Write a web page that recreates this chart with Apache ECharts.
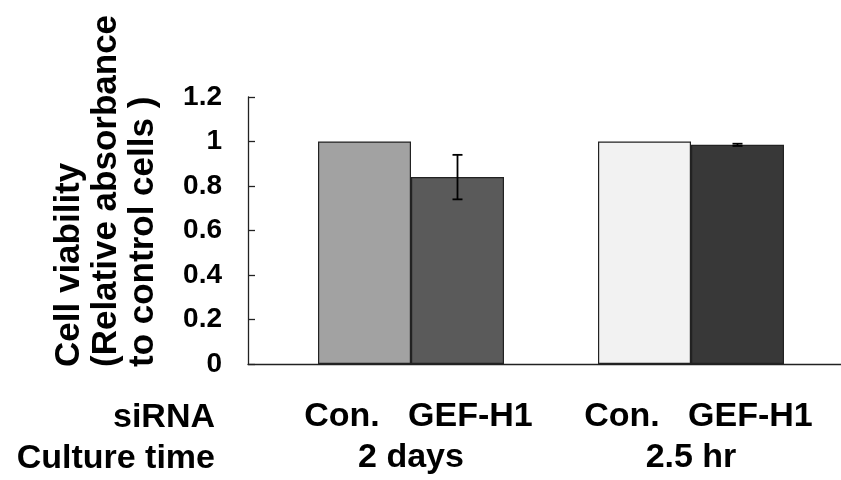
<!DOCTYPE html>
<html>
<head>
<meta charset="utf-8">
<script src="https://cdn.jsdelivr.net/npm/echarts@6/dist/echarts.min.js"></script>
<style>html,body{margin:0;padding:0;background:#fff}#c{width:841px;height:480px}</style>
</head>
<body>
<div id="c"></div>
<script>
// ---- data ----
const groups = ['2 days', '2.5 hr'];
const siRNA = ['Con.', 'GEF-H1'];
const conValues = [1.0, 1.0];
const gefValues = [0.84, 0.985];
const gefErrors = [0.10, 0.005];
const conColors = ['#a2a2a2', '#f2f2f2'];
const gefColors = ['#5a5a5a', '#383838'];
const rowLabels = ['siRNA', 'Culture time'];
const yTitle = ['Cell viability', '(Relative absorbance', 'to control cells )'];
const yMin = 0, yMax = 1.2, yStep = 0.2;

const FONT = '"Liberation Sans", Arial, sans-serif';
const BAR_W = 93;

const chart = echarts.init(document.getElementById('c'), null, {renderer: 'canvas'});
const option = {
  backgroundColor: '#ffffff',
  animation: false,
  grid: [
    {left: 271, right: 10, top: 97, bottom: 116},
    {left: 248, right: 0, top: 97, bottom: 116}
  ],
  xAxis: [
    {
      type: 'category', gridIndex: 0, data: groups,
      axisLine: {show: false}, axisTick: {show: false},
      axisLabel: {
        margin: 32, interval: 0,
        formatter: function (v) { return '{a|' + siRNA[0] + '   ' + siRNA[1] + '}\n{b|' + v + '}'; },
        rich: {
          a: {fontFamily: FONT, fontWeight: 'bold', fontSize: 34, lineHeight: 41, color: '#000', padding: [0, 0, 0, 15]},
          b: {fontFamily: FONT, fontWeight: 'bold', fontSize: 34, lineHeight: 41, color: '#000'}
        }
      }
    },
    {
      type: 'value', gridIndex: 1, min: 0, max: 1,
      axisLine: {show: true, lineStyle: {color: '#222', width: 1.3}},
      axisTick: {show: false}, axisLabel: {show: false}, splitLine: {show: false}
    }
  ],
  yAxis: [
    {
      type: 'value', gridIndex: 0, min: yMin, max: yMax, interval: yStep, offset: 23,
      axisLine: {show: true, lineStyle: {color: '#222', width: 1.3}},
      axisTick: {show: true, inside: true, length: 7, lineStyle: {color: '#222', width: 1.3}},
      splitLine: {show: false},
      axisLabel: {margin: 26, color: '#000', fontFamily: FONT, fontWeight: 'bold', fontSize: 28}
    },
    {
      type: 'value', gridIndex: 1, show: false, min: 0, max: 1
    }
  ],
  graphic: [
    {
      type: 'text', x: 51, y: 367, rotation: Math.PI / 2,
      style: {
        text: yTitle.join('\n'), fill: '#000',
        font: 'bold 35px ' + FONT, lineHeight: 37,
        textAlign: 'left', textVerticalAlign: 'top'
      }
    },
    {
      type: 'text', x: 215, y: 418,
      style: {text: rowLabels[0], fill: '#000', font: 'bold 34px ' + FONT, textAlign: 'right', textVerticalAlign: 'middle'}
    },
    {
      type: 'text', x: 215, y: 459,
      style: {text: rowLabels[1], fill: '#000', font: 'bold 34px ' + FONT, textAlign: 'right', textVerticalAlign: 'middle'}
    }
  ],
  series: [
    {
      name: siRNA[0], type: 'bar', xAxisIndex: 0, yAxisIndex: 0,
      barWidth: BAR_W, barGap: '0%',
      data: conValues.map((v, i) => ({value: v, itemStyle: {color: conColors[i]}})),
      itemStyle: {borderColor: '#222', borderWidth: 1.2}
    },
    {
      name: siRNA[1], type: 'bar', xAxisIndex: 0, yAxisIndex: 0,
      barWidth: BAR_W, barGap: '0%',
      data: gefValues.map((v, i) => ({value: v, itemStyle: {color: gefColors[i]}})),
      itemStyle: {borderColor: '#222', borderWidth: 1.2}
    },
    {
      type: 'custom', xAxisIndex: 0, yAxisIndex: 0, z: 10,
      data: gefValues.map((v, i) => [i, v, gefErrors[i]]),
      renderItem: function (params, api) {
        const i = api.value(0), v = api.value(1), e = api.value(2);
        const top = api.coord([i, v + e]);
        const bot = api.coord([i, v - e]);
        const x = top[0] + BAR_W / 2;
        const cap = 5;
        const st = {stroke: '#000', lineWidth: 1.8};
        return {
          type: 'group',
          children: [
            {type: 'line', shape: {x1: x, y1: top[1], x2: x, y2: bot[1]}, style: st},
            {type: 'line', shape: {x1: x - cap, y1: top[1], x2: x + cap, y2: top[1]}, style: st},
            {type: 'line', shape: {x1: x - cap, y1: bot[1], x2: x + cap, y2: bot[1]}, style: st}
          ]
        };
      }
    }
  ]
};
chart.setOption(option);
</script>
</body>
</html>
